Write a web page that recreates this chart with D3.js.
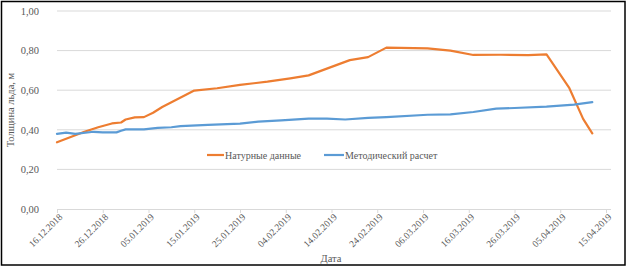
<!DOCTYPE html>
<html><head><meta charset="utf-8">
<script src="https://cdn.jsdelivr.net/npm/d3@7"></script>
<style>body{margin:0;background:#fff}svg{display:block}svg text{font-family:"Liberation Serif","DejaVu Serif","Times New Roman",serif}</style>
</head><body><svg id="c" width="629" height="269"></svg>
<script>
const yTicks = [0, 0.2, 0.4, 0.6, 0.8, 1.0];
const xTickLabels = ["16.12.2018","26.12.2018","05.01.2019","15.01.2019","25.01.2019","04.02.2019","14.02.2019","24.02.2019","06.03.2019","16.03.2019","26.03.2019","05.04.2019","15.04.2019"];
const seriesNames = ["Натурные данные", "Методический расчет"];
const obsDates = ["16.12.2018","22.12.2018","25.12.2018","28.12.2018","30.12.2018","31.12.2018","02.01.2019","04.01.2019","06.01.2019","08.01.2019","15.01.2019","20.01.2019","25.01.2019","31.01.2019","05.02.2019","09.02.2019","18.02.2019","22.02.2019","26.02.2019","07.03.2019","12.03.2019","17.03.2019","23.03.2019","29.03.2019","02.04.2019","07.04.2019","10.04.2019","12.04.2019"];
const obsValues = [0.337,0.39,0.413,0.432,0.437,0.452,0.463,0.464,0.486,0.515,0.598,0.61,0.627,0.643,0.66,0.675,0.752,0.767,0.815,0.811,0.80,0.778,0.779,0.777,0.781,0.61,0.455,0.382];
const calcDates = ["16.12.2018","18.12.2018","20.12.2018","24.12.2018","26.12.2018","29.12.2018","30.12.2018","31.12.2018","04.01.2019","07.01.2019","10.01.2019","12.01.2019","18.01.2019","25.01.2019","29.01.2019","03.02.2019","09.02.2019","13.02.2019","17.02.2019","22.02.2019","26.02.2019","07.03.2019","12.03.2019","17.03.2019","22.03.2019","26.03.2019","02.04.2019","08.04.2019","12.04.2019"];
const calcValues = [0.379,0.386,0.379,0.39,0.387,0.387,0.395,0.402,0.402,0.41,0.413,0.419,0.425,0.431,0.441,0.448,0.456,0.456,0.452,0.46,0.464,0.476,0.478,0.49,0.507,0.51,0.517,0.527,0.54];

const parse = d3.timeParse("%d.%m.%Y");
const svg = d3.select("#c");
const grey = "#595959";

svg.append("rect").attr("x",1.5).attr("y",1.5).attr("width",623.5).attr("height",263.5)
  .attr("fill","#fff").attr("stroke","#000").attr("stroke-width",1.5);

const x = d3.scaleTime().domain([parse("16.12.2018"), parse("15.04.2019")]).range([57, 606]);
const y = d3.scaleLinear().domain([0, 1]).range([209, 11]);
const xGridEnd = 611;

svg.append("g").selectAll("line").data(yTicks.filter(d=>d>0)).join("line")
  .attr("x1",57).attr("x2",xGridEnd).attr("y1",d=>y(d)).attr("y2",d=>y(d))
  .attr("stroke","#d9d9d9").attr("stroke-width",1);

const yAxis = d3.axisLeft(y).tickValues(yTicks).tickSize(0).tickPadding(18)
  .tickFormat(d => d3.format(".2f")(d).replace(".", ","));
const gy = svg.append("g").attr("transform","translate(57,0)").call(yAxis);
gy.attr("font-family",null);
gy.select(".domain").remove();
gy.selectAll("text").attr("font-size",10.5).attr("fill",grey);

const xTickDates = xTickLabels.map(parse);
const xAxis = d3.axisBottom(x).tickValues(xTickDates).tickSize(4).tickFormat((d,i)=>xTickLabels[i]);
const gx = svg.append("g").attr("transform","translate(0,209)").call(xAxis);
gx.attr("font-family",null);
gx.select(".domain").attr("stroke","#d9d9d9").attr("d","M57,0.5H" + xGridEnd);
gx.selectAll(".tick line").attr("stroke","#d9d9d9");
gx.selectAll("text").attr("font-size",9.5).attr("fill",grey)
  .attr("text-anchor","end").attr("dy",null).attr("y",null)
  .attr("transform","translate(4,7) rotate(-45)").attr("dominant-baseline","middle");

const line = d3.line().x(d=>x(d[0])).y(d=>y(d[1]));
const obs = obsDates.map((d,i)=>[parse(d), obsValues[i]]);
const calc = calcDates.map((d,i)=>[parse(d), calcValues[i]]);
const colors = ["#ED7D31", "#5B9BD5"];
svg.append("path").datum(obs).attr("d",line).attr("fill","none").attr("stroke",colors[0])
  .attr("stroke-width",2.2).attr("stroke-linejoin","round").attr("stroke-linecap","round");
svg.append("path").datum(calc).attr("d",line).attr("fill","none").attr("stroke",colors[1])
  .attr("stroke-width",2.2).attr("stroke-linejoin","round").attr("stroke-linecap","round");

svg.append("text").attr("transform","translate(14,110) rotate(-90)").attr("text-anchor","middle")
  .attr("font-size",10.5).attr("fill",grey).text("Толщина льда, м");
svg.append("text").attr("x",331).attr("y",262).attr("text-anchor","middle")
  .attr("font-size",10.5).attr("fill",grey).text("Дата");

const legPos = [[207,225],[324,345]];
seriesNames.forEach((n,i)=>{
  svg.append("line").attr("x1",legPos[i][0]).attr("x2",legPos[i][1]-1).attr("y1",155).attr("y2",155)
    .attr("stroke",colors[i]).attr("stroke-width",2.2);
  svg.append("text").attr("x",legPos[i][1]).attr("y",158.5)
    .attr("font-size",10).attr("fill",grey).text(n);
});
</script></body></html>
